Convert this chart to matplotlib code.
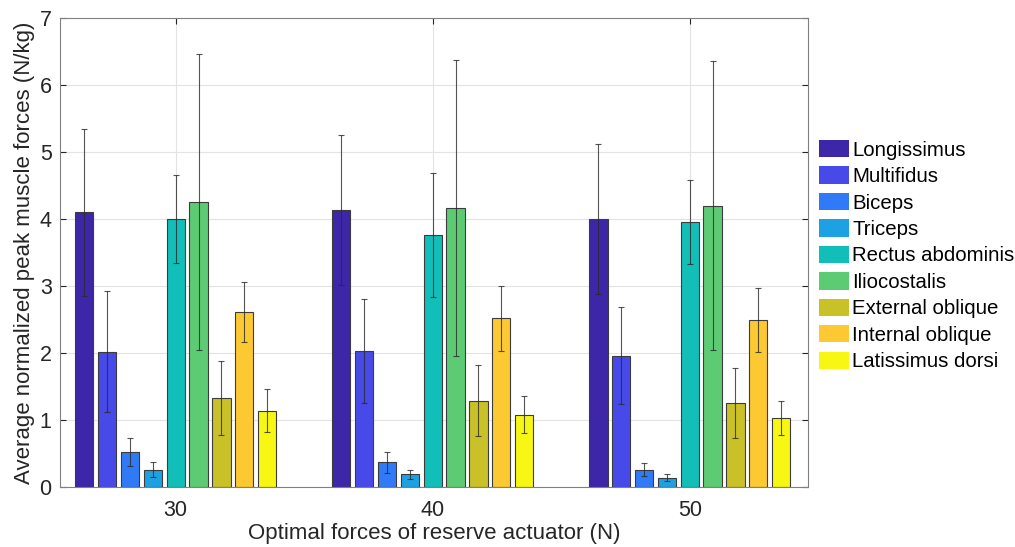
import numpy as np
import matplotlib
matplotlib.use("Agg")
import matplotlib.pyplot as plt

plt.rcParams['font.family'] = ['Liberation Sans', 'DejaVu Sans']

forces = [30, 40, 50]
muscles = ["Longissimus", "Multifidus", "Biceps", "Triceps", "Rectus abdominis",
           "Iliocostalis", "External oblique", "Internal oblique", "Latissimus dorsi"]
colors = ["#3d26a8", "#474ae8", "#317af7", "#1da1e2", "#12beb8",
          "#5dcb74", "#c9c127", "#fcc932", "#f8f714"]

# mean values per muscle, one entry per force level (30, 40, 50)
means = [
    [4.10, 4.13, 4.00],
    [2.02, 2.03, 1.96],
    [0.52, 0.37, 0.26],
    [0.26, 0.19, 0.14],
    [4.00, 3.76, 3.96],
    [4.26, 4.17, 4.20],
    [1.33, 1.29, 1.25],
    [2.61, 2.52, 2.49],
    [1.14, 1.08, 1.03],
]
stds = [
    [1.25, 1.12, 1.12],
    [0.90, 0.77, 0.72],
    [0.21, 0.155, 0.10],
    [0.115, 0.065, 0.05],
    [0.66, 0.93, 0.625],
    [2.21, 2.21, 2.16],
    [0.55, 0.53, 0.52],
    [0.45, 0.485, 0.48],
    [0.32, 0.275, 0.25],
]

fig = plt.figure(figsize=(10.15, 5.47), dpi=100)
ax = fig.add_axes([60/1015, 60/547, 748/1015, 469/547])

n = len(muscles)
group_w = 8.0
slot = group_w / n
bw = slot * 0.8
x = np.array(forces, dtype=float)
for i, m in enumerate(muscles):
    xi = x + (i - (n - 1) / 2) * slot
    ax.bar(xi, means[i], width=bw, color=colors[i], edgecolor="#3c3c3c",
           linewidth=0.8, label=m, zorder=2)
    ax.errorbar(xi, means[i], yerr=stds[i], fmt="none", ecolor="#2a2a2a",
                elinewidth=0.8, capsize=2.5, capthick=0.8, alpha=0.8, zorder=3)

ax.set_xlim(25.5, 54.6)
ax.set_ylim(0, 7)
ax.set_xticks(forces)
ax.set_yticks(range(0, 8))
ax.grid(True, color="#e3e3e3", linewidth=0.8, zorder=0)
ax.set_axisbelow(True)
ax.tick_params(direction="in", top=True, right=True, labelsize=15.5,
               colors="#262626", length=4, width=0.8)
ax.tick_params(axis="x", pad=9)
ax.tick_params(axis="y", pad=6)
for sp in ax.spines.values():
    sp.set_color("#808080")
    sp.set_linewidth(0.8)

ax.set_xlabel("Optimal forces of reserve actuator (N)", fontsize=16, color="#262626", labelpad=2)
ax.set_ylabel("Average normalized peak muscle forces (N/kg)", fontsize=16, color="#262626", labelpad=3)

leg = ax.legend(loc="upper left", bbox_to_anchor=((819 - 60) / 748, (487 - 140) / 469), frameon=False,
                fontsize=14.7, handlelength=1.47, handleheight=0.93, handletextpad=0.15,
                labelspacing=0.33, borderaxespad=0, borderpad=0)
for p in leg.get_patches():
    p.set_edgecolor("none")

fig.savefig("out.png", dpi=100)
